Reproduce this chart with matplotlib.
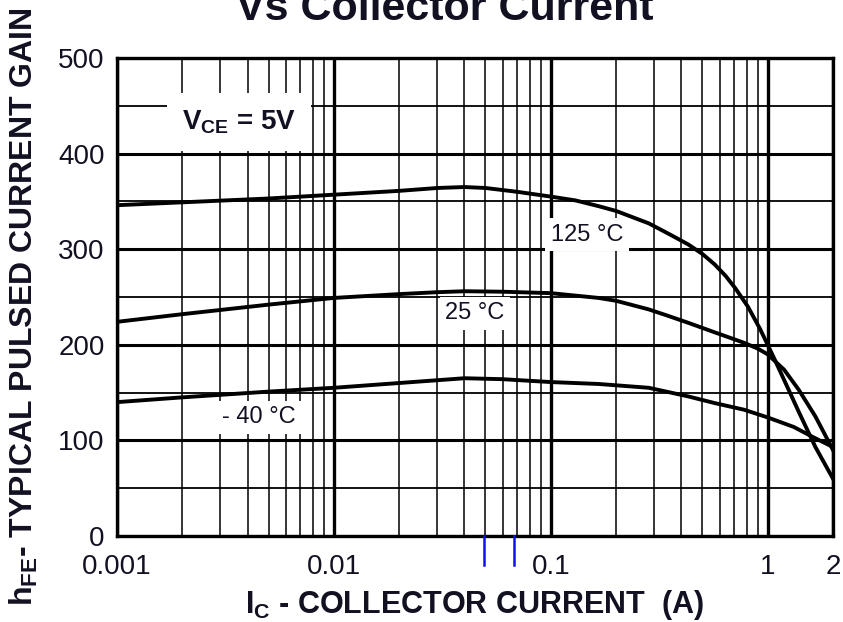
"""
hFE vs collector current (datasheet style curve chart)
"""
import matplotlib
matplotlib.use("Agg")
import matplotlib.pyplot as plt
from matplotlib.ticker import FixedLocator, MultipleLocator, NullFormatter
import matplotlib.transforms as mtransforms

# ---------------------------------------------------------------------------
# data
# ---------------------------------------------------------------------------
ic_125 = [0.001, 0.002, 0.005, 0.01, 0.02, 0.03, 0.04, 0.05, 0.07, 0.1, 0.13,
          0.166, 0.2, 0.283, 0.35, 0.43, 0.5, 0.57, 0.64, 0.71, 0.81, 0.92,
          1.0, 1.07, 1.22, 1.39, 1.66, 2.0]
hfe_125 = [346, 349, 353, 357, 361, 364, 365, 364, 360, 355, 351,
           345, 340, 327, 316, 305, 295, 284, 272, 259, 240, 217,
           200, 186, 158, 130, 93, 60]

ic_25 = [0.001, 0.002, 0.005, 0.01, 0.02, 0.03, 0.04, 0.06, 0.1, 0.166, 0.2,
         0.283, 0.35, 0.43, 0.57, 0.78, 0.9, 1.0, 1.19, 1.39, 1.66, 2.0]
hfe_25 = [224, 232, 242, 249, 253, 255, 256, 255.5, 254, 249, 246,
          237, 230, 223, 213, 202, 196, 190, 174, 153, 125, 90]

ic_m40 = [0.001, 0.002, 0.005, 0.01, 0.02, 0.04, 0.06, 0.1, 0.166, 0.283,
          0.43, 0.57, 0.78, 1.0, 1.32, 1.6, 2.0]
hfe_m40 = [140, 145, 151, 155, 160, 165, 164, 161, 159, 155,
           146, 139, 132, 124, 114, 104, 93]

x_ticks = [0.001, 0.01, 0.1, 1, 2]
x_tick_labels = ["0.001", "0.01", "0.1", "1", "2"]
y_ticks = [0, 100, 200, 300, 400, 500]
blue_marks = [0.049, 0.068]

plt.rcParams["font.family"] = ["Liberation Sans", "DejaVu Sans"]
plt.rcParams["mathtext.fontset"] = "custom"
plt.rcParams["mathtext.rm"] = "Liberation Sans"
plt.rcParams["mathtext.bf"] = "Liberation Sans:bold"

TEXT = "#111122"
fig = plt.figure(figsize=(8.43, 6.22), dpi=100)
ax = fig.add_axes([0.1388, 0.1383, 0.9881 - 0.1388, 0.9068 - 0.1383])

ax.set_xscale("log")
ax.set_xlim(0.001, 2)
ax.set_ylim(0, 500)

# grid
minor_x = [m * d for d in (0.001, 0.01, 0.1) for m in range(2, 10)]
ax.xaxis.set_major_locator(FixedLocator(x_ticks))
ax.xaxis.set_minor_locator(FixedLocator(minor_x))
ax.xaxis.set_minor_formatter(NullFormatter())
ax.set_xticklabels(x_tick_labels)
ax.yaxis.set_major_locator(FixedLocator(y_ticks))
ax.yaxis.set_minor_locator(MultipleLocator(50))
ax.grid(which="major", axis="x", color="black", lw=2.4)
ax.grid(which="minor", axis="x", color="black", lw=1.1)
ax.grid(which="major", axis="y", color="black", lw=2.2)
ax.grid(which="minor", axis="y", color="black", lw=1.3)
ax.set_axisbelow(True)
ax.tick_params(which="both", length=0)
ax.tick_params(axis="x", pad=13, labelsize=20, labelcolor=TEXT)
ax.tick_params(axis="y", pad=9, labelsize=20, labelcolor=TEXT)
for sp in ax.spines.values():
    sp.set_linewidth(2.4)

# curves
for xs, ys in ((ic_125, hfe_125), (ic_25, hfe_25), (ic_m40, hfe_m40)):
    ax.plot(xs, ys, color="black", lw=2.8, solid_joinstyle="round", zorder=3)

# labels with white boxes
box = dict(facecolor="white", edgecolor="none", pad=4)
ax.text(0.00365, 433, r"V$_{\mathbf{CE}}$ = 5V", fontsize=20, fontweight="bold",
        color=TEXT, ha="center", va="center", zorder=4,
        bbox=dict(facecolor="white", edgecolor="none", boxstyle="square,pad=0.55"))
ax.text(0.147, 315, "125 °C", fontsize=17, color=TEXT, ha="center", va="center",
        zorder=4, bbox=box)
ax.text(0.0447, 233, "25 °C", fontsize=17, color=TEXT, ha="center", va="center",
        zorder=4, bbox=box)
ax.text(0.00451, 124, "- 40 °C", fontsize=17, color=TEXT, ha="center", va="center",
        zorder=4, bbox=box)

# stray blue marks under the axis
trans = mtransforms.blended_transform_factory(ax.transData, ax.transAxes)
for xm in blue_marks:
    ax.plot([xm, xm], [0, -0.061], color="#1010ee", lw=1.8, transform=trans,
            clip_on=False, zorder=5)

# axis titles
ax.set_xlabel(r"I$_{\mathbf{C}}$ - COLLECTOR CURRENT  (A)", fontsize=22,
              fontweight="bold", color=TEXT, labelpad=6)
ax.set_ylabel(r"h$_{\mathbf{FE}}$- TYPICAL PULSED CURRENT GAIN", fontsize=23,
              fontweight="bold", color=TEXT)
ax.yaxis.set_label_coords(-0.108, 0.479)
fig.text(0.528, 0.968, "Vs Collector Current", fontsize=31, fontweight="bold",
         color=TEXT, ha="center", va="baseline")

fig.savefig("out.png", dpi=100)
